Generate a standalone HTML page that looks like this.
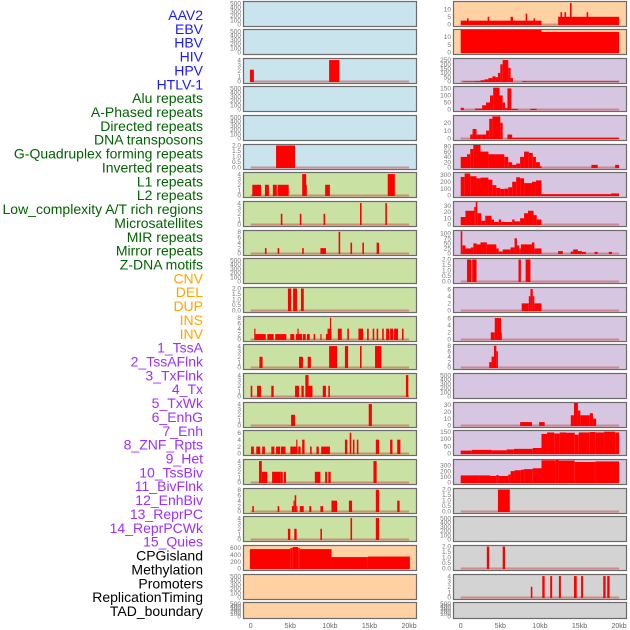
<!DOCTYPE html>
<html><head><meta charset="utf-8"><style>
html,body{margin:0;padding:0;background:#fff;}
svg{display:block;font-family:"Liberation Sans",sans-serif;}
</style></head><body>
<svg id="chart" width="630" height="630" viewBox="0 0 630 630"></svg>
<script>
const labels=["AAV2","EBV","HBV","HIV","HPV","HTLV-1","Alu repeats","A-Phased repeats","Directed repeats","DNA transposons","G-Quadruplex forming repeats","Inverted repeats","L1 repeats","L2 repeats","Low_complexity A/T rich regions","Microsatellites","MIR repeats","Mirror repeats","Z-DNA motifs","CNV","DEL","DUP","INS","INV","1_TssA","2_TssAFlnk","3_TxFlnk","4_Tx","5_TxWk","6_EnhG","7_Enh","8_ZNF_Rpts","9_Het","10_TssBiv","11_BivFlnk","12_EnhBiv","13_ReprPC","14_ReprPCWk","15_Quies","CPGisland","Methylation","Promoters","ReplicationTiming","TAD_boundary"];
const labelColors=["#1a1aff","#1a1aff","#1a1aff","#1a1aff","#1a1aff","#1a1aff","#006400","#006400","#006400","#006400","#006400","#006400","#006400","#006400","#006400","#006400","#006400","#006400","#006400","#ffa500","#ffa500","#ffa500","#ffa500","#ffa500","#9b30ff","#9b30ff","#9b30ff","#9b30ff","#9b30ff","#9b30ff","#9b30ff","#9b30ff","#9b30ff","#9b30ff","#9b30ff","#9b30ff","#9b30ff","#9b30ff","#9b30ff","#000","#000","#000","#000","#000"];
const xTickValues=[0,5,10,15,20];
const xTickLabels=["0","5kb","10kb","15kb","20kb"];
const E=[0,100,200,300,400,500];
const leftBg=["b","b","b","b","b","b","g","g","g","g","g","g","g","g","g","g","g","g","g","o","o","o"];
const rightBg=["o","o","p","p","p","p","p","p","p","p","p","p","p","p","p","p","p","g2","g2","g2","g2","g2"];
const leftYMax=[530,530,4.2,530,530,2.05,4.2,4.2,8.3,530,2.05,8.3,4.2,4.2,4.2,6.5,4.2,8.3,4.2,650,530,530];
const rightYMax=[14.6,14.2,262,160,28.5,85,327,36,111,2.05,6.3,6.3,8.3,530,33,155,395,2.05,530,2.05,4.2,530];
const leftTicks=[E,E,[0,1,2,3,4],E,E,["0.0","0.5","1.0","1.5","2.0"],[0,1,2,3,4],[0,1,2,3,4],[0,2,4,6,8],E,["0.0","0.5","1.0","1.5","2.0"],[0,2,4,6,8],[0,1,2,3,4],[0,1,2,3,4],[0,1,2,3,4],[0,2,4,6],[0,1,2,3,4],[0,2,4,6,8],[0,1,2,3,4],[0,200,400,600],E,E];
const rightTicks=[[0,5,10],[0,5,10],[0,50,100,150,200,250],[0,50,100,150],[0,10,20],[0,20,40,60,80],[0,100,200,300],[0,10,20,30],[0,25,50,75,100],["0.0","0.5","1.0","1.5","2.0"],[0,2,4,6],[0,2,4,6],[0,2,4,6,8],E,[0,10,20,30],[0,50,100,150],[0,100,200,300],["0.0","0.5","1.0","1.5","2.0"],E,["0.0","0.5","1.0","1.5","2.0"],[0,1,2,3,4],E];
const leftBars=[
[],[],
[[-0.1,0.4,2.2],[9.9,11.2,4]],
[],[],
[[3.2,5.6,2]],
[[0.2,1.3,2],[1.8,2.3,2],[2.8,3.3,2],[3.4,4.8,2],[6.5,7.0,4],[7.0,7.1,2],[9.4,10,2],[17.3,18.2,4]],
[[3.8,4.0,2],[6.2,6.4,2],[9.2,9.4,2],[13.8,14.0,4],[17.0,17.2,4]],
[[1.8,2.0,2],[3.4,3.6,2],[6.5,6.7,2],[8.8,9.5,2],[11.1,11.3,8],[12.6,12.8,4],[14.1,14.3,4],[15.9,16.2,4]],
[],
[[4.7,5.1,2],[5.35,5.85,2],[6.35,6.7,2]],
[[0.45,0.6,4],[0.6,1.9,2],[2.1,2.9,2],[3.1,4.5,2],[5.0,5.5,2],[5.7,6.5,2],[5.9,6.05,4],[6.6,6.95,2],[7.1,7.45,2],[7.95,8.15,2],[8.8,8.95,2],[9.5,10.2,2],[9.7,10.2,4],[10.0,10.15,8],[11.0,11.5,4],[12.2,12.4,4],[13.6,14.2,4],[14.7,14.9,4],[15.4,15.6,4],[15.9,16.1,4],[16.6,16.8,4],[17.1,17.5,4],[17.6,18.0,4],[18.1,18.6,4],[19.1,19.3,4]],
[[1.1,1.5,2],[6.1,6.6,2],[7.2,7.6,2],[9.9,10.9,4],[11.9,12.3,4],[13.8,14.0,4],[15.7,16.5,4]],
[[0.0,0.2,2],[0.8,1.3,2],[2.6,2.9,2],[5.6,6.1,2],[6.4,6.7,2],[6.9,7.3,4],[7.3,7.8,2],[9.1,9.5,2],[9.8,10.0,2],[19.6,19.9,4]],
[[5.1,5.6,2],[14.9,15.3,4]],
[[0.05,0.4,2],[0.7,1.2,2],[1.45,1.8,2],[2.6,3.0,2],[3.2,3.7,2],[3.8,4.4,2],[5.0,5.9,2],[5.75,5.9,4],[6.0,6.3,2],[6.5,6.8,4],[7.5,7.7,2],[8.3,8.6,2],[8.9,10.0,2],[11.9,12.2,4],[12.5,12.7,6],[12.9,13.1,4],[13.4,13.6,4],[15.8,16.2,4],[17.6,17.9,4],[18.5,18.9,4]],
[[1.05,1.4,4],[1.4,2.1,2],[2.7,3.8,2],[3.8,4.05,2],[4.2,4.45,2],[8.1,8.8,2],[9.4,9.65,2],[9.8,10.1,2],[15.5,15.9,4]],
[[0.2,0.4,2],[3.4,3.6,2],[5.2,5.5,2],[5.4,5.55,4],[5.55,5.75,6],[5.75,5.9,2],[6.2,6.7,2],[7.4,7.65,2],[8.8,9.15,2],[10.2,10.9,4],[12.4,12.8,4],[15.8,16.2,8],[18.5,18.8,4]],
[[4.7,5.0,2],[5.5,5.8,2],[8.8,9.0,2],[12.6,12.8,4],[15.8,16.2,4]],
[[-0.1,5,560],[5,5.3,590],[5.3,6,620],[6,6.2,590],[6.2,10.2,560],[10.2,14.8,330],[14.8,20.1,345]],
[],[]
];
const rightBars=[
[[0,10.2,2.5],[0.8,1.0,4],[3.4,3.6,5],[6.3,6.6,5],[8.2,8.4,7],[9.2,9.4,4],[12.3,20,5],[12.6,12.8,8],[13.1,13.3,8],[13.8,14.0,14],[15.9,16.1,8]],
[[0,10.2,14.6],[10.2,20,13]],
[[0.3,1.8,2],[1.8,2.5,5],[2.5,3.0,15],[3.0,3.5,25],[3.5,4.0,40],[4.0,4.4,60],[4.4,4.7,50],[4.7,5.0,100],[5.0,5.3,200],[5.3,6.0,250],[6.0,6.3,160],[6.3,6.6,40],[7.8,8.3,5],[8.3,20,2]],
[[0,0.4,12],[1.8,2.7,7],[2.7,3.2,30],[3.2,3.7,50],[3.7,4.1,100],[4.1,4.9,155],[4.9,5.3,100],[5.3,5.6,50],[5.6,5.9,10],[5.9,6.4,150],[6.4,7.2,5],[8.8,9.6,5]],
[[1.2,1.5,5],[1.5,2.0,12],[2.0,2.6,5],[2.6,3.2,5],[3.2,3.6,10],[3.6,4.0,25],[4.0,5.0,28],[5.0,5.3,20],[5.9,6.5,5],[6.5,20,1]],
[[0,0.8,40],[0.8,1.2,50],[1.2,1.6,70],[1.6,2.5,85],[2.5,3.5,60],[3.5,5.5,50],[5.5,6.0,40],[6.0,6.5,20],[6.5,7.0,10],[7.0,7.5,15],[7.5,8.0,40],[8.0,8.6,60],[8.6,9.1,55],[9.1,9.5,40],[9.5,10.0,20],[10.0,10.2,5],[16.5,17.3,10],[19.5,20,10]],
[[0,0.5,270],[0.5,1.2,320],[1.2,2,280],[2,2.5,250],[2.5,3.5,260],[3.5,4,230],[4,4.5,150],[4.5,5,110],[5,5.5,95],[5.5,6,100],[6,6.5,120],[6.5,7,200],[7,7.5,265],[7.5,8,250],[8,9,180],[9,9.5,200],[9.5,10.2,220],[10.2,19,20],[19,20,30]],
[[0,0.6,12],[0.6,1.7,22],[1.7,1.9,28],[1.9,2.1,36],[2.1,2.6,18],[2.6,3.1,6],[3.1,3.9,14],[3.9,4.2,8],[4.2,4.8,4],[4.8,5.1,8],[5.1,6.5,4],[6.5,6.8,8],[6.8,7.5,5],[7.5,8,10],[8,8.5,18],[8.5,9.2,22],[9.2,9.6,15],[9.6,10.2,8]],
[[0,0.2,110],[0.2,0.6,40],[0.6,1.3,25],[1.3,1.6,30],[1.6,2,50],[2,2.5,45],[2.5,3.3,55],[3.3,4.5,45],[4.5,4.8,25],[4.8,5.3,10],[5.3,6.3,20],[6.3,6.8,30],[6.8,7.1,75],[7.1,7.4,40],[7.4,7.6,25],[7.6,9,45],[9,9.3,55],[9.3,10.2,25],[12.3,12.9,12],[13.9,14.2,10],[14.2,14.8,20],[14.8,15.3,12],[15.3,15.8,8],[16.9,17.3,8],[18.7,19.1,8]],
[[0.8,1.35,2],[1.45,2.0,2],[7.3,7.6,2],[8.2,8.8,2]],
[[7.7,8.6,2],[8.6,8.8,4],[8.8,9.1,6],[9.1,9.3,4],[9.3,10.2,2]],
[[3.8,4.3,2],[4.3,5.1,6],[5.1,5.2,2]],
[[3.6,3.9,2],[3.9,4.2,4],[4.2,4.5,8],[4.5,4.7,6]],
[],
[[7.5,9,5],[9.9,10.6,5],[13.9,14.3,15],[14.3,14.8,33],[14.8,15.1,22],[15.1,16.3,15],[16.3,16.7,18],[16.7,17.1,10]],
[[0,1.4,20],[1.4,3.9,25],[3.9,5.8,22],[5.8,6.7,28],[6.7,9.1,32],[9.1,10.2,38],[10.2,10.9,135],[10.9,11.8,145],[11.8,12.5,138],[12.5,13.3,145],[13.3,14.4,143],[14.4,14.9,130],[14.9,16.3,145],[16.3,17,148],[17,18.1,145],[18.1,19.5,150],[19.5,20,145]],
[[0,2.3,125],[2.3,3.7,125],[3.7,4.5,115],[4.5,4.8,130],[4.8,6,115],[6,6.3,140],[6.3,6.8,200],[6.8,7.6,215],[7.6,8,225],[8,9.1,235],[9.1,10.2,250],[10.2,12,390],[12,12.4,395],[12.4,14.4,385],[14.4,17,360],[17,20,370]],
[[4.7,6.2,2]],
[],
[[3.3,3.6,2],[5.3,5.6,2]],
[[8.85,9.05,2],[10.3,10.6,4],[11.3,11.55,4],[12.4,12.65,4],[14.3,14.65,4],[15.2,15.45,4],[18.0,18.3,4],[18.5,18.8,4]],
[]
];
const NS="http://www.w3.org/2000/svg";
const svg=document.getElementById('chart');
function mk(tag,attrs,parent){const e=document.createElementNS(NS,tag);for(const k in attrs)e.setAttribute(k,attrs[k]);(parent||svg).appendChild(e);return e;}
const bgColors={b:"#c9e4ec",g:"#c9e1a3",o:"#ffd1a3",p:"#d7c6e2",g2:"#d3d3d3"};
const rowTops=[];for(let i=0;i<22;i++)rowTops.push(Math.round(0.5+i*28.66));
function rowH(i){return i===21?16:25;}
// labels
labels.forEach((t,i)=>{
  const el=mk('text',{x:203,y:20+i*13.86,'text-anchor':'end','font-size':'14',fill:labelColors[i]});
  el.textContent=t;
  
  
});
function drawPanel(col,i,bars,ymax,ticks,bg){
  const px=col===0?243:453, pw=173, top=rowTops[i], h=rowH(i);
  const x0=px+7.7;
  const xs=kb=>x0+kb*7.92;
  const ys=v=>top+h-1.5-(v/ymax)*(h-2.5);
  const g=mk('g',{});
  
  
  const r=mk('rect',{x:px+0.5,y:top+0.5,width:pw,height:h,fill:bgColors[bg],stroke:'#6b6b6b','stroke-width':1.2},g);
  
  
  ticks.forEach(t=>{
    const v=parseFloat(t);
    const tx=mk('text',{x:px-2,y:ys(v)+2.2,'text-anchor':'end','font-size':'6.5',fill:'#777'},g);
    tx.textContent=t;
    
    
  });
  if(bars.length){
    const bl=mk('line',{x1:xs(0),x2:xs(20),y1:top+h-1.5,y2:top+h-1.5,stroke:'rgba(205,90,90,0.6)','stroke-width':2},g);
    
    
  }
  bars.forEach(b=>{
    const y=ys(Math.min(b[2],ymax));
    const br=mk('rect',{x:xs(b[0]),y:y,width:Math.max(0.8,xs(b[1])-xs(b[0])),height:top+h-1-y,fill:'#ff0000'},g);
    
    
  });
}
for(let i=0;i<22;i++){
  drawPanel(0,i,leftBars[i],leftYMax[i],leftTicks[i],leftBg[i]);
  drawPanel(1,i,rightBars[i],rightYMax[i],rightTicks[i],rightBg[i]);
}
[243,453].forEach((px,c)=>{
  xTickValues.forEach((v,k)=>{
    const t=mk('text',{x:px+7.7+v*7.92,y:628,'text-anchor':'middle','font-size':'7',fill:'#666'});
    t.textContent=xTickLabels[k];
    
    
  });
});
</script>
</body></html>
